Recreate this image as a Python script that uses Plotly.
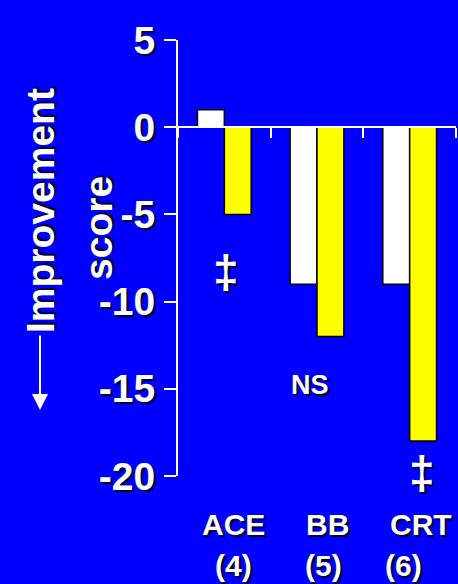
import plotly.graph_objects as go

# Treatment groups with patient counts
groups = ["ACE", "BB", "CRT"]
group_counts = ["(4)", "(5)", "(6)"]

# Improvement score per group (two series)
white_series = [1, -9, -9]
yellow_series = [-5, -12, -18]

# Y-axis ticks
y_tick_values = [5, 0, -5, -10, -15, -20]
y_tick_labels = ["5", "0", "-5", "-10", "-15", "-20"]

# Significance markers: (group, y value, text)
sig_marks = [("ACE", -8.3, "‡"), ("BB", -14.8, "NS"), ("CRT", -19.8, "‡")]

W, H = 458, 584
ML, MR, MT, MB = 178, 2, 40, 108
PW, PH = W - ML - MR, H - MT - MB

BG = "#0000ff"
FONT = "Liberation Sans, Arial, sans-serif"
SHADOW = "2px 2px 1px rgba(0,0,30,0.95)"


def px_x(p):
    return (p - ML) / PW


def px_y(p):
    return (H - MB - p) / PH


def font(size, color="white"):
    return dict(family=FONT, size=size, color=color, weight="bold", shadow=SHADOW)


fig = go.Figure()
fig.add_bar(x=groups, y=white_series, marker=dict(color="white", line=dict(color="black", width=1.5)),
            showlegend=False)
fig.add_bar(x=groups, y=yellow_series, marker=dict(color="#ffff00", line=dict(color="black", width=1.5)),
            showlegend=False)

annotations = []

# Significance labels
shifts = {"ACE": 2, "BB": -7, "CRT": 12}
sizes = {"‡": 46, "NS": 27}
for g, yv, t in sig_marks:
    annotations.append(dict(x=g, y=yv, xref="x", yref="y", text=t, showarrow=False,
                            xshift=shifts[g], font=font(sizes[t]), xanchor="center", yanchor="middle"))

# Category labels below the plot
name_shift = [9, 10, 11]
count_shift = [9, 6, -6]
for g, c, ns, cs in zip(groups, group_counts, name_shift, count_shift):
    annotations.append(dict(x=g, y=px_y(524), xref="x", yref="paper", text=g, showarrow=False,
                            xshift=ns, font=font(30), xanchor="center", yanchor="middle"))
    annotations.append(dict(x=g, y=px_y(565), xref="x", yref="paper", text=c, showarrow=False,
                            xshift=cs, font=font(30), xanchor="center", yanchor="middle"))

# Rotated y-axis title
annotations.append(dict(x=px_x(40), y=px_y(211), xref="paper", yref="paper", text="Improvement",
                        textangle=-90, showarrow=False, font=font(39), xanchor="center", yanchor="middle"))
annotations.append(dict(x=px_x(98), y=px_y(228), xref="paper", yref="paper", text="score",
                        textangle=-90, showarrow=False, font=font(39), xanchor="center", yanchor="middle"))

# Downward arrow under the title
annotations.append(dict(x=px_x(40), y=px_y(410), xref="paper", yref="paper", text="",
                        showarrow=True, ax=0, ay=-76, axref="pixel", ayref="pixel",
                        arrowhead=2, arrowsize=1.6, arrowwidth=2, arrowcolor="white"))

fig.update_layout(
    width=W, height=H,
    margin=dict(l=ML, r=MR, t=MT, b=MB),
    paper_bgcolor=BG, plot_bgcolor=BG,
    barmode="group", bargap=0.42, bargroupgap=0,
    annotations=annotations,
    xaxis=dict(type="category", categoryorder="array", categoryarray=groups,
               anchor="free", position=20 / 25,
               showline=True, linecolor="white", linewidth=2,
               ticks="outside", tickson="boundaries", ticklen=10, tickwidth=2, tickcolor="white",
               showticklabels=False, showgrid=False, zeroline=False),
    yaxis=dict(range=[-20, 5], tickvals=y_tick_values, ticktext=y_tick_labels,
               showline=True, linecolor="white", linewidth=2,
               ticks="outside", ticklen=12, tickwidth=2, tickcolor="white",
               ticklabelstandoff=1,
               tickfont=font(39), showgrid=False, zeroline=False),
)

fig.write_html("out.html")
